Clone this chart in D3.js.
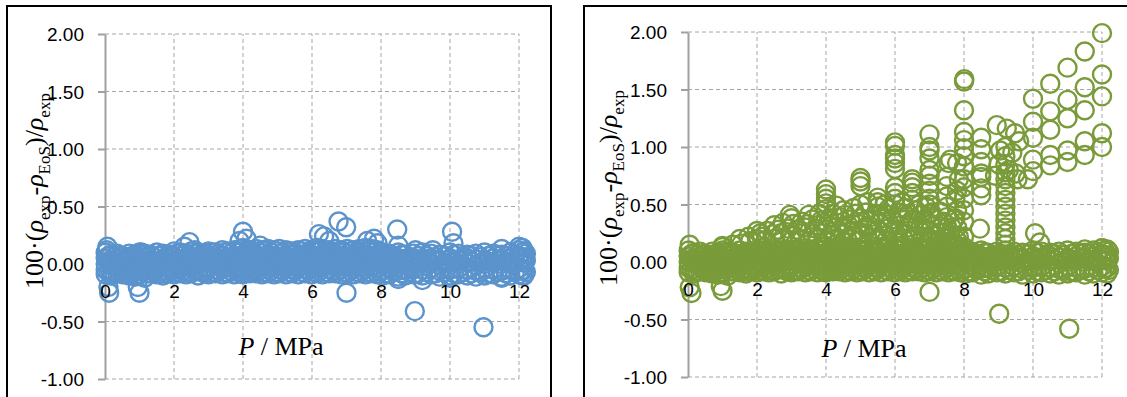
<!DOCTYPE html>
<html>
<head>
<meta charset="utf-8">
<script src="https://cdnjs.cloudflare.com/ajax/libs/d3/7.8.5/d3.min.js"></script>
<style>
body { margin: 0; background: #fff; }
.grid line { stroke: #a6a6a6; stroke-width: 1; stroke-dasharray: 4,3; }
.tick text { font-family: "Liberation Sans", Arial, sans-serif; font-size: 19px; fill: #000; }
</style>
</head>
<body>
<div id="chart"></div>
<script>
var xTicks = [0, 2, 4, 6, 8, 10, 12];
var yTicks = [-1, -0.5, 0, 0.5, 1, 1.5, 2];

// pressures of the dense band near zero (both panels, same measurements)
var bandP = [0.02,0.18,0.35,0.52,0.70,0.88,1.00,1.15,1.32,1.50,1.68,1.85,2.00,
  2.18,2.35,2.50,2.70,2.88,3.00,3.20,3.40,3.55,3.75,3.92,4.00,4.20,
  4.38,4.55,4.72,4.90,5.05,5.25,5.42,5.60,5.80,5.98,6.15,6.30,6.50,
  6.68,6.85,7.02,7.20,7.38,7.55,7.72,7.90,8.05,8.25,8.50,8.70,8.95,
  9.20,9.45,9.70,10.00,10.25,10.50,10.75,11.00,11.25,11.50,11.75,12.00,12.15];
var devTop = [0.10,0.08,0.09,0.07,0.09,0.08,0.10,0.09,0.08,0.10,0.09,0.08,0.11,
  0.10,0.09,0.11,0.10,0.09,0.11,0.10,0.12,0.11,0.12,0.13,0.14,0.12,
  0.13,0.12,0.13,0.12,0.13,0.12,0.11,0.12,0.13,0.12,0.14,0.13,0.12,
  0.13,0.12,0.13,0.12,0.13,0.14,0.13,0.12,0.10,0.09,0.10,0.08,0.09,
  0.10,0.09,0.08,0.10,0.09,0.08,0.09,0.10,0.09,0.08,0.10,0.12,0.11];
var devHi = [0.05,0.03,0.04,0.02,0.05,0.04,0.03,0.05,0.04,0.02,0.04,0.05,0.06,
  0.04,0.05,0.06,0.04,0.05,0.06,0.05,0.07,0.06,0.05,0.07,0.08,0.06,
  0.07,0.06,0.08,0.07,0.06,0.07,0.08,0.06,0.07,0.08,0.07,0.08,0.07,
  0.08,0.07,0.06,0.08,0.07,0.08,0.07,0.08,0.05,0.04,0.05,0.04,0.05,
  0.04,0.05,0.03,0.05,0.04,0.05,0.04,0.03,0.05,0.04,0.05,0.07,0.06];
var devMid = [0.00,-0.01,0.01,-0.02,0.00,0.01,-0.01,0.00,0.01,-0.01,0.00,0.02,0.01,
  0.00,0.02,0.01,-0.01,0.02,0.01,0.00,0.02,0.01,0.03,0.02,0.01,0.03,
  0.02,0.03,0.01,0.02,0.03,0.02,0.01,0.03,0.02,0.01,0.03,0.02,0.03,
  0.02,0.01,0.03,0.02,0.01,0.02,0.03,0.02,0.01,0.00,0.01,-0.01,0.00,
  0.01,0.00,-0.01,0.01,0.00,0.01,-0.01,0.00,0.01,0.00,0.01,0.02,0.01];
var devLo = [-0.05,-0.06,-0.04,-0.06,-0.05,-0.07,-0.05,-0.06,-0.04,-0.05,-0.06,-0.04,-0.05,
  -0.04,-0.05,-0.03,-0.05,-0.04,-0.03,-0.05,-0.04,-0.03,-0.04,-0.03,-0.04,-0.03,
  -0.04,-0.03,-0.04,-0.03,-0.04,-0.03,-0.04,-0.03,-0.04,-0.03,-0.04,-0.03,-0.04,
  -0.03,-0.04,-0.03,-0.04,-0.03,-0.04,-0.03,-0.04,-0.05,-0.04,-0.06,-0.05,-0.04,
  -0.05,-0.04,-0.06,-0.05,-0.04,-0.05,-0.06,-0.04,-0.05,-0.06,-0.05,-0.04,-0.05];
var devBot = [-0.09,-0.10,-0.08,-0.09,-0.10,-0.11,-0.09,-0.12,-0.08,-0.09,-0.10,-0.08,-0.09,
  -0.08,-0.09,-0.08,-0.10,-0.08,-0.09,-0.08,-0.09,-0.08,-0.09,-0.08,-0.09,-0.08,
  -0.08,-0.09,-0.08,-0.09,-0.08,-0.09,-0.08,-0.09,-0.08,-0.09,-0.08,-0.09,-0.08,
  -0.08,-0.09,-0.08,-0.09,-0.08,-0.09,-0.08,-0.09,-0.10,-0.09,-0.11,-0.10,-0.09,
  -0.10,-0.09,-0.11,-0.10,-0.09,-0.10,-0.11,-0.10,-0.09,-0.11,-0.10,-0.09,-0.10];

// second set of pressures lying between the first ones
var bandP2 = [0.10,0.27,0.44,0.61,0.79,0.94,1.08,1.24,1.41,1.59,1.76,1.93,2.09,
  2.27,2.42,2.60,2.79,2.94,3.10,3.30,3.48,3.65,3.84,3.96,4.10,4.29,
  4.46,4.63,4.81,4.97,5.15,5.34,5.51,5.70,5.89,6.06,6.22,6.40,6.59,
  6.77,6.94,7.11,7.29,7.46,7.63,7.81,7.98,8.15,8.38,8.60,8.82,9.08,
  9.33,9.58,9.85,10.12,10.38,10.62,10.88,11.12,11.38,11.62,11.88,12.08,12.20];
var devA2 = [0.07,0.06,0.07,0.05,0.07,0.06,0.08,0.07,0.06,0.07,0.06,0.08,0.09,
  0.08,0.07,0.09,0.08,0.09,0.10,0.09,0.10,0.09,0.10,0.11,0.10,0.11,
  0.10,0.11,0.10,0.11,0.10,0.11,0.10,0.11,0.10,0.11,0.12,0.11,0.10,
  0.11,0.10,0.11,0.10,0.11,0.12,0.11,0.10,0.08,0.07,0.08,0.06,0.07,
  0.07,0.06,0.07,0.08,0.06,0.07,0.06,0.07,0.08,0.07,0.08,0.10,0.09];
var devB2 = [0.02,0.01,-0.01,0.01,0.02,0.00,0.01,0.02,-0.01,0.01,0.02,0.01,0.03,
  0.02,0.03,0.04,0.02,0.03,0.04,0.03,0.04,0.03,0.05,0.04,0.03,0.05,
  0.04,0.05,0.04,0.05,0.04,0.05,0.04,0.05,0.04,0.05,0.04,0.05,0.04,
  0.05,0.04,0.05,0.04,0.05,0.04,0.05,0.04,0.03,0.02,0.03,0.02,0.01,
  0.02,0.03,0.01,0.02,0.03,0.02,0.01,0.02,0.03,0.02,0.03,0.04,0.03];
var devC2 = [-0.07,-0.08,-0.06,-0.07,-0.08,-0.09,-0.07,-0.08,-0.06,-0.07,-0.08,-0.06,-0.07,
  -0.06,-0.07,-0.06,-0.07,-0.06,-0.07,-0.06,-0.07,-0.06,-0.07,-0.06,-0.07,-0.06,
  -0.06,-0.07,-0.06,-0.07,-0.06,-0.07,-0.06,-0.07,-0.06,-0.07,-0.06,-0.07,-0.06,
  -0.06,-0.07,-0.06,-0.07,-0.06,-0.07,-0.06,-0.07,-0.08,-0.07,-0.08,-0.07,-0.08,
  -0.07,-0.08,-0.07,-0.08,-0.07,-0.08,-0.07,-0.08,-0.07,-0.08,-0.07,-0.06,-0.07];

// scattered points, left panel
var extraA = [[0.07,0.15],[0.05,0.12],[0.1,-0.2],[0.12,-0.25],[1.0,-0.25],[0.95,-0.2],[1.05,0.1],
  [2.45,0.19],[2.3,0.15],[2.6,0.12],[4.0,0.28],[4.1,0.22],[3.9,0.2],[4.5,0.16],[6.2,0.26],
  [6.35,0.24],[6.5,0.2],[6.77,0.37],[6.99,0.32],[7.0,-0.25],[7.6,0.2],[7.8,0.22],[7.9,0.18],
  [8.47,0.3],[8.5,0.16],[8.5,-0.13],[8.98,-0.41],[9.0,0.12],[9.5,0.12],[10.06,0.28],[10.1,0.18],
  [10.97,-0.55],[11.5,0.13],[12.0,0.15],[12.1,0.14],[12.1,-0.1],[11.5,-0.12],[10.0,-0.12],[9.2,-0.14]];

// right panel: low outliers, vertical stacks, fan at high P
var extraB = [[0.05,-0.22],[0.1,-0.27],[1.0,-0.25],[0.95,-0.21],[7.0,-0.26],[9.02,-0.45],[11.05,-0.58],
  [0.05,0.15],[1.0,0.14],[10.06,0.25],[10.2,0.17],[8.46,0.29],[12.0,0.12],[11.5,0.11],
  [4.0,0.51],[4.0,0.55],[4.0,0.59],[4.0,0.63],
  [5.0,0.66],[5.0,0.7],[5.0,0.73],
  [5.5,0.52],[5.5,0.56],
  [6.0,0.55],[6.0,0.6],[6.0,0.65],[6.0,0.81],[6.0,0.86],[6.0,0.9],[6.0,0.93],[6.0,1.01],[6.0,1.04],
  [6.5,0.54],[6.5,0.6],[6.5,0.65],[6.5,0.69],[6.5,0.72],
  [7.0,0.42],[7.0,0.5],[7.0,0.55],[7.0,0.62],[7.0,0.68],[7.0,0.75],[7.0,0.8],[7.0,0.9],[7.0,0.97],
  [7.0,1.0],[7.0,1.11],
  [7.5,0.3],[7.5,0.39],[7.5,0.48],[7.5,0.57],[7.5,0.66],[7.5,0.74],[7.55,0.86],[7.6,0.89],
  [7.8,0.3],[7.75,0.38],[7.8,0.45],[7.75,0.55],[7.8,0.62],[7.85,0.72],[7.8,0.86],
  [8.0,0.22],[8.0,0.35],[8.0,0.45],[8.0,0.55],[8.0,0.65],[8.0,0.72],[8.0,0.83],[8.0,0.92],[8.0,0.99],
  [8.0,1.06],[8.0,1.13],[8.0,1.32],[8.0,1.57],[8.01,1.59],
  [8.5,0.58],[8.5,0.64],[8.5,0.74],[8.5,0.77],[8.5,0.87],[8.5,0.98],[8.5,1.08],
  [8.95,1.19],[9.05,0.97],[9.0,0.85],[8.9,0.75],
  [9.2,0.15],[9.2,0.2],[9.2,0.25],[9.2,0.3],[9.2,0.36],[9.2,0.42],[9.2,0.48],[9.2,0.54],[9.2,0.6],
  [9.2,0.66],[9.2,0.72],[9.2,0.78],[9.2,0.85],[9.2,0.92],[9.2,1.0],[9.24,1.16],[9.48,1.12],[9.3,0.8],
  [9.5,0.77],[9.55,0.72],[9.4,0.95],[9.6,1.05],
  [10.0,1.42],[10.0,1.22],[10.0,1.08],[10.0,0.89],[10.0,0.79],[9.85,0.72],
  [10.5,1.55],[10.5,1.31],[10.5,1.15],[10.5,0.93],[10.5,0.84],
  [11.0,1.69],[11.0,1.41],[11.0,1.25],[11.0,0.97],[11.0,0.87],
  [11.5,1.83],[11.5,1.52],[11.5,1.32],[11.5,1.05],[11.5,0.93],
  [12.0,1.99],[12.0,1.63],[12.0,1.44],[12.0,1.12],[12.0,1.0]];

// right panel: the wedge that climbs above the band between 1 and 8 MPa
var wedgeB = [[1.0,0.13],[1.3,0.15],[1.55,0.16],[1.8,0.18],[2.0,0.2],[2.25,0.19],[2.5,0.2],[2.75,0.21],
  [3.0,0.19],[3.25,0.2],[3.5,0.18],[3.75,0.2],[4.0,0.19],[4.25,0.2],[4.5,0.18],[4.75,0.2],[5.0,0.19],
  [5.25,0.18],[5.5,0.2],[5.75,0.19],[6.0,0.18],[6.25,0.2],[6.5,0.19],[6.75,0.18],[7.0,0.17],[7.25,0.19],
  [7.5,0.17],[7.75,0.15],[8.0,0.13],
  [1.5,0.2],[1.75,0.22],[2.15,0.22],[2.45,0.24],[2.7,0.25],[3.0,0.24],[3.3,0.25],[3.6,0.24],[3.9,0.25],
  [4.2,0.24],[4.5,0.25],[4.8,0.23],[5.1,0.25],[5.4,0.24],[5.7,0.23],[6.0,0.25],[6.3,0.24],[6.6,0.23],
  [6.9,0.22],[7.2,0.23],[7.5,0.21],[7.8,0.19],
  [2.0,0.27],[2.1,0.25],[2.3,0.27],[2.6,0.28],[2.9,0.29],[3.15,0.28],[3.4,0.3],[3.7,0.29],[4.0,0.28],
  [4.3,0.3],[4.6,0.29],[4.9,0.27],[5.2,0.3],[5.5,0.28],[5.8,0.29],[6.1,0.27],[6.4,0.3],[6.7,0.28],
  [7.0,0.27],[7.3,0.26],[7.6,0.24],[7.85,0.22],
  [2.5,0.32],[2.75,0.34],[3.05,0.33],[3.45,0.33],[3.75,0.32],[4.05,0.33],[4.35,0.34],[4.65,0.32],
  [4.95,0.33],[5.25,0.32],[5.55,0.34],[5.85,0.33],[6.15,0.32],[6.45,0.34],[6.75,0.32],[7.05,0.33],
  [7.35,0.31],[7.65,0.3],
  [3.0,0.38],[2.95,0.41],[3.3,0.35],[3.6,0.37],[3.85,0.36],[4.1,0.38],[4.4,0.39],[4.7,0.37],[5.0,0.38],
  [5.3,0.36],[5.6,0.38],[5.9,0.37],[6.2,0.39],[6.5,0.37],[6.8,0.36],[7.1,0.38],[7.4,0.35],[7.7,0.37],
  [3.5,0.41],[3.8,0.42],[4.2,0.42],[4.55,0.41],[4.85,0.42],[5.15,0.43],[5.45,0.42],[5.75,0.41],
  [6.1,0.43],[6.4,0.42],[6.75,0.41],[7.05,0.43],
  [4.0,0.46],[4.5,0.45],[4.8,0.47],[5.0,0.5],[5.5,0.48],[5.8,0.46],[6.0,0.5],[6.3,0.47],[6.6,0.45],
  [6.9,0.48],[7.3,0.44],[4.3,0.49],[5.2,0.52],[5.7,0.5],[6.2,0.52],[6.7,0.5]];

var svg = d3.select("#chart").append("svg")
  .attr("width", 1127)
  .attr("height", 397);

function bandPoints() {
  var pts = [];
  [devTop, devHi, devMid, devLo, devBot].forEach(function(lev) {
    bandP.forEach(function(p, i) { pts.push([p, lev[i]]); });
  });
  [devA2, devB2, devC2].forEach(function(lev) {
    bandP2.forEach(function(p, i) { pts.push([p, lev[i]]); });
  });
  return pts;
}

function drawPanel(cfg) {
  var x = d3.scaleLinear().domain([0, 12]).range(cfg.xr),
      y = d3.scaleLinear().domain([-1, 2]).range(cfg.yr),
      g = svg.append("g");

  g.append("rect")
    .attr("x", cfg.frame[0]).attr("y", cfg.frame[1])
    .attr("width", cfg.frame[2]).attr("height", cfg.frame[3])
    .attr("fill", "none").attr("stroke", "#000").attr("stroke-width", 2);

  var grid = g.append("g").attr("class", "grid");
  grid.selectAll(".h").data(yTicks).enter().append("line")
    .attr("x1", cfg.xr[0]).attr("x2", cfg.xr[1])
    .attr("y1", function(d) { return y(d); }).attr("y2", function(d) { return y(d); });
  grid.selectAll(".v").data(xTicks.slice(1)).enter().append("line")
    .attr("y1", cfg.yr[0]).attr("y2", cfg.yr[1])
    .attr("x1", function(d) { return x(d); }).attr("x2", function(d) { return x(d); });

  var yAxis = g.append("g")
    .attr("transform", "translate(" + cfg.xr[0] + ",0)")
    .call(d3.axisLeft(y).tickValues(yTicks).tickSize(7).tickSizeOuter(0).tickPadding(14)
      .tickFormat(function(d) { return d.toFixed(2); }));
  yAxis.selectAll("path, line").attr("stroke", "#a0a0a0").attr("stroke-width", 2);
  yAxis.selectAll("text").attr("dy", "0.36em");

  g.append("line")
    .attr("x1", cfg.xr[0]).attr("x2", cfg.xr[1])
    .attr("y1", y(0)).attr("y2", y(0))
    .attr("stroke", "#a0a0a0").attr("stroke-width", 1.5);

  g.append("g").selectAll("circle")
    .data(cfg.points)
    .enter().append("circle")
    .attr("cx", function(d) { return x(d[0]); })
    .attr("cy", function(d) { return y(d[1]); })
    .attr("r", 9)
    .attr("fill", "none")
    .attr("stroke", cfg.color)
    .attr("stroke-width", 2.4);

  // x labels sit on top of the markers
  var xAxis = g.append("g")
    .attr("transform", "translate(0," + y(0) + ")")
    .call(d3.axisBottom(x).tickValues(xTicks).tickSize(0).tickPadding(21));
  xAxis.select(".domain").remove();

  var yt = g.append("text")
    .attr("transform", "translate(" + cfg.yTitle[0] + "," + cfg.yTitle[1] + ") rotate(-90)")
    .attr("text-anchor", "middle")
    .style("font-family", "'Liberation Serif', 'Times New Roman', serif")
    .style("font-size", "26px");
  yt.append("tspan").text("100\u00b7(");
  yt.append("tspan").style("font-style", "italic").text("\u03c1");
  yt.append("tspan").style("font-size", "17px").attr("dy", 7).text("exp");
  yt.append("tspan").attr("dy", -7).text("-");
  yt.append("tspan").style("font-style", "italic").text("\u03c1");
  yt.append("tspan").style("font-size", "17px").attr("dy", 7).text("EoS");
  yt.append("tspan").attr("dy", -7).text(")/");
  yt.append("tspan").style("font-style", "italic").text("\u03c1");
  yt.append("tspan").style("font-size", "17px").attr("dy", 7).text("exp");

  var xt = g.append("text")
    .attr("x", cfg.xTitle[0]).attr("y", cfg.xTitle[1])
    .attr("text-anchor", "middle")
    .style("font-family", "'Liberation Serif', 'Times New Roman', serif")
    .style("font-size", "26px");
  xt.append("tspan").style("font-style", "italic").text("P");
  xt.append("tspan").text(" / MPa");
}

drawPanel({
  frame: [7, 6, 544, 420],
  xr: [105, 519], yr: [379, 34],
  color: "#5b93cc",
  points: bandPoints().concat(extraA),
  yTitle: [43, 191],
  xTitle: [281, 355]
});

drawPanel({
  frame: [584, 6, 560, 420],
  xr: [688, 1102], yr: [377, 32],
  color: "#7a9b3a",
  points: bandPoints().concat(wedgeB, extraB),
  yTitle: [617, 188],
  xTitle: [864, 357]
});
</script>
</body>
</html>
